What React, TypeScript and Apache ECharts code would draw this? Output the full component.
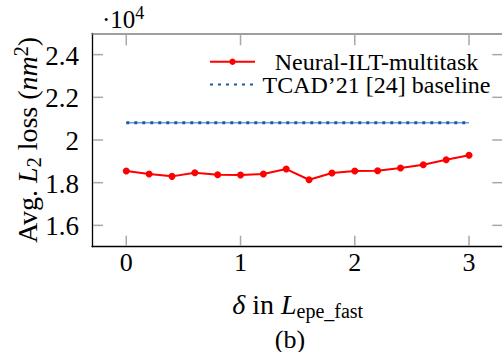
import React, { useEffect, useRef } from "react";
import * as echarts from "echarts";

const deltas = [0, 0.2, 0.4, 0.6, 0.8, 1.0, 1.2, 1.4, 1.6, 1.8, 2.0, 2.2, 2.4, 2.6, 2.8, 3.0];
const neuralLoss = [18545, 18404, 18296, 18465, 18371, 18357, 18404, 18638, 18136, 18451, 18545, 18559, 18685, 18840, 19075, 19282];
const baselineX = [0, 3];
const baselineLoss = [20810, 20810];
const xTicks = [0, 1, 2, 3];
const yTicks = [16000, 18000, 20000, 22000, 24000];
const seriesNames = ["Neural-ILT-multitask", "TCAD\u201921 [24] baseline"];

const FONT = "Liberation Serif";

const legendFor = (item: any, top: number) => ({
  orient: "vertical",
  left: 204,
  top,
  itemWidth: 45,
  itemHeight: 8,
  itemGap: 0,
  data: [item],
  formatter: (n: string) => `{c|${n}}`,
  textStyle: {
    fontFamily: FONT,
    fontSize: 24,
    color: "#000",
    lineHeight: 26,
    rich: { c: { width: 233, align: "center", fontFamily: FONT, fontSize: 24, lineHeight: 26, color: "#000" } },
  },
});

export default function App() {
  const ref = useRef<HTMLDivElement>(null);
  useEffect(() => {
    if (!ref.current) return;
    const chart = echarts.init(ref.current, undefined, { renderer: "svg" });
    chart.setOption({
      animation: false,
      backgroundColor: "#ffffff",
      textStyle: { fontFamily: FONT },
      grid: { left: 92, top: 33.3, width: 411.3, height: 213.4, containLabel: false, outerBoundsMode: "none" },
      legend: [
        legendFor({ name: seriesNames[0] }, 43.7),
        legendFor({ name: seriesNames[1], itemStyle: { opacity: 0 } }, 66.5),
      ],
      xAxis: [
        {
          type: "value",
          min: -0.3,
          max: 3.3,
          position: "bottom",
          axisLine: { show: true, onZero: false, lineStyle: { color: "#000", width: 1.3 } },
          axisTick: { show: false },
          axisLabel: { show: false },
          splitLine: { show: false },
          name: "{i|\u03b4}{r| in }{i|L}{sub|epe_fast}",
          nameLocation: "middle",
          nameGap: 41,
          nameTextStyle: {
            rich: {
              i: { fontFamily: FONT, fontStyle: "italic", fontSize: 28, color: "#000" },
              r: { fontFamily: FONT, fontSize: 28, color: "#000" },
              sub: { fontFamily: FONT, fontSize: 20, color: "#000", padding: [13, 0, 0, 0] },
            },
          },
        },
        {
          type: "value",
          min: -0.3,
          max: 3.3,
          position: "top",
          axisLine: { show: true, onZero: false, lineStyle: { color: "#808080", width: 1.5 } },
          axisTick: { show: false },
          axisLabel: { show: false },
          splitLine: { show: false },
        },
      ],
      yAxis: [
        {
          type: "value",
          min: 15000,
          max: 25000,
          position: "left",
          axisLine: { show: true, onZero: false, lineStyle: { color: "#000", width: 1.3 } },
          axisTick: { show: false },
          axisLabel: { show: false },
          splitLine: { show: false },
          name: "{r|Avg. }{i|L}{sub|2}{r| loss (}{i|nm}{sup|2}{r|)}",
          nameLocation: "middle",
          nameRotate: 90,
          nameGap: 48,
          nameTextStyle: {
            rich: {
              i: { fontFamily: FONT, fontStyle: "italic", fontSize: 28, color: "#000" },
              r: { fontFamily: FONT, fontSize: 28, color: "#000" },
              sub: { fontFamily: FONT, fontSize: 20, color: "#000", padding: [13, 0, 0, 0] },
              sup: { fontFamily: FONT, fontSize: 20, color: "#000", padding: [0, 0, 13, 0] },
            },
          },
        },
      ],
      series: [
        {
          name: seriesNames[1],
          type: "line",
          data: baselineX.map((x, i) => [x, baselineLoss[i]]),
          symbol: "none",
          lineStyle: { color: "#1c5aa6", width: 3, type: [3, 5] },
          itemStyle: { color: "#1c5aa6" },
          z: 3,
        },
        {
          name: seriesNames[1],
          type: "line",
          data: baselineX.map((x, i) => [x, baselineLoss[i]]),
          symbol: "none",
          lineStyle: { color: "#6d9fd8", width: 1.5, type: "solid" },
          itemStyle: { color: "#6d9fd8" },
          z: 2,
        },
        {
          name: seriesNames[0],
          type: "line",
          data: deltas.map((d, i) => [d, neuralLoss[i]]),
          symbol: "circle",
          symbolSize: 7,
          lineStyle: { color: "#ff0000", width: 2 },
          itemStyle: { color: "#ff0000" },
          z: 4,
        },
      ],
    });

    // tick marks and tick labels, placed through the chart's own scales
    const p0 = chart.convertToPixel({ gridIndex: 0 }, [-0.3, 15000]) as number[];
    const p1 = chart.convertToPixel({ gridIndex: 0 }, [3.3, 25000]) as number[];
    const leftX = p0[0];
    const bottomY = p0[1];
    const rightX = p1[0];
    const topY = p1[1];
    const els: any[] = [];
    const tickRect = (x: number, y: number, w: number, h: number) => ({
      type: "rect",
      shape: { x, y, width: w, height: h },
      style: { fill: "#a8a8a8" },
      silent: true,
      z: 50,
    });
    xTicks.forEach((v) => {
      const px = (chart.convertToPixel({ gridIndex: 0 }, [v, 20000]) as number[])[0];
      els.push(tickRect(px - 0.75, bottomY - 11, 1.5, 10));
      els.push(tickRect(px - 0.75, topY + 1, 1.5, 11));
      els.push({
        type: "text",
        x: px,
        y: bottomY + 16,
        style: { text: String(v), fontFamily: FONT, fontSize: 26, fill: "#000", align: "center", verticalAlign: "middle" },
      });
    });
    yTicks.forEach((v) => {
      const py = (chart.convertToPixel({ gridIndex: 0 }, [1, v]) as number[])[1];
      els.push(tickRect(leftX + 1, py - 0.75, 10, 1.5));
      els.push(tickRect(rightX - 11, py - 0.75, 10, 1.5));
      els.push({
        type: "text",
        x: leftX - 13,
        y: py + 1,
        style: { text: String(v / 10000), fontFamily: FONT, fontSize: 27, fill: "#000", align: "right", verticalAlign: "middle" },
      });
    });

    chart.setOption({
      graphic: [
        {
          type: "text",
          left: 102,
          top: 4,
          style: {
            text: "{r|\u00b710}{sup|4}",
            rich: {
              r: { fontFamily: FONT, fontSize: 25, fill: "#000" },
              sup: { fontFamily: FONT, fontSize: 18, fill: "#000", padding: [0, 0, 12, 0] },
            },
          },
        },
        {
          type: "text",
          x: 290,
          y: 339,
          style: {
            text: "(b)",
            fontFamily: FONT,
            fontSize: 26,
            fill: "#000",
            align: "center",
            verticalAlign: "middle",
          },
        },
        ...els,
      ],
    });
    return () => chart.dispose();
  }, []);
  return (
    <div
      ref={ref}
      style={{ position: "fixed", left: 0, top: 0, width: 502, height: 352, background: "#fff" }}
    />
  );
}
